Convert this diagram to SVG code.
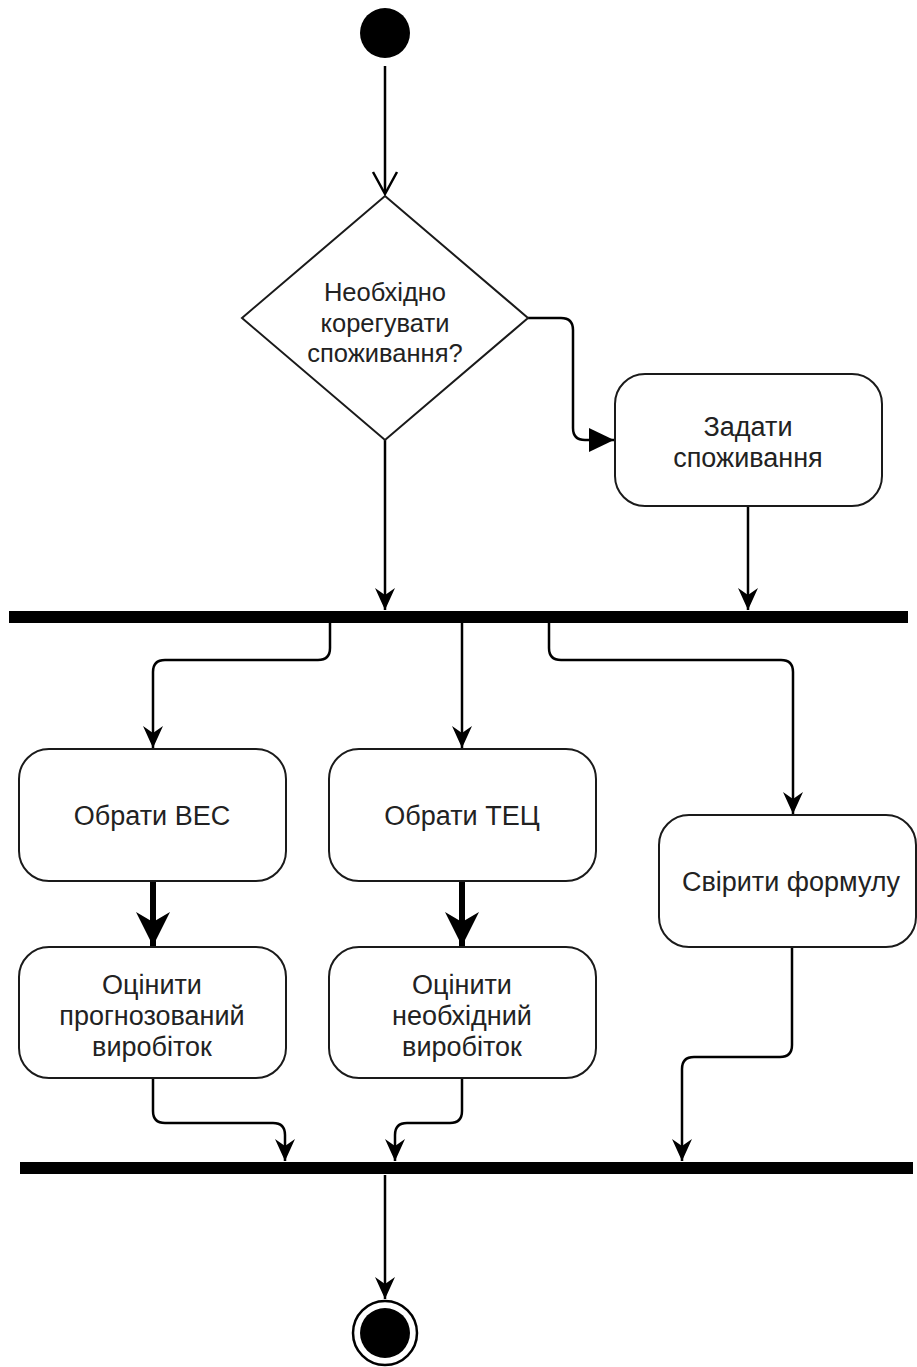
<svg xmlns="http://www.w3.org/2000/svg" width="917" height="1367" viewBox="0 0 917 1367">
  <style>
    .act { fill: #ffffff; stroke: #1a1a1a; stroke-width: 2; }
    .dec { fill: #ffffff; stroke: #1a1a1a; stroke-width: 2; }
    .bar { fill: #000000; }
    .lbl { font-family: "Liberation Sans", Arial, sans-serif; font-size: 27px; fill: #222222; text-anchor: middle; dominant-baseline: central; }
    .qlbl { font-family: "Liberation Sans", Arial, sans-serif; font-size: 25.5px; fill: #222222; text-anchor: middle; dominant-baseline: central; }
    .flow { fill: none; stroke: #000000; stroke-width: 2.5; }
    .thick { fill: none; stroke: #000000; stroke-width: 6; }
  </style>
  <defs>
    <marker id="classic" markerUnits="userSpaceOnUse" viewBox="-24 -12 26 24" refX="0" refY="0" markerWidth="26" markerHeight="24" orient="auto">
      <path d="M0,0 L-22,-10 L-15,0 L-22,10 Z" fill="#000000"/>
    </marker>
    <marker id="classicBig" markerUnits="userSpaceOnUse" viewBox="-36 -19 38 38" refX="0" refY="0" markerWidth="38" markerHeight="38" orient="auto">
      <path d="M0,0 L-34,-17 L-24,0 L-34,17 Z" fill="#000000"/>
    </marker>
    <marker id="block" markerUnits="userSpaceOnUse" viewBox="-27 -14 29 28" refX="0" refY="0" markerWidth="29" markerHeight="28" orient="auto">
      <path d="M0,0 L-25,-12 L-25,12 Z" fill="#000000"/>
    </marker>
  </defs>

  <!-- connectors -->
  <g id="connectors">
    <!-- start to decision (open arrow) -->
    <path class="flow" d="M385,66 V193"/>
    <path class="flow" d="M373,172 L385,194 L397,172"/>
    <!-- decision: yes branch to "Задати споживання" -->
    <path class="flow" d="M528,318 H561 Q573,318 573,330 V428 Q573,440 585,440 H614" marker-end="url(#block)"/>
    <!-- decision bottom to fork -->
    <path class="flow" d="M385,440 V610" marker-end="url(#classic)"/>
    <!-- "Задати споживання" to fork -->
    <path class="flow" d="M748,507 V610" marker-end="url(#classic)"/>
    <!-- fork outputs -->
    <path class="flow" d="M330,623 V648 Q330,660 318,660 H165 Q153,660 153,672 V748" marker-end="url(#classic)"/>
    <path class="flow" d="M462,623 V748" marker-end="url(#classic)"/>
    <path class="flow" d="M549,623 V648 Q549,660 561,660 H781 Q793,660 793,672 V814" marker-end="url(#classic)"/>
    <!-- select to estimate -->
    <path class="thick" d="M153,881 V946" marker-end="url(#classicBig)"/>
    <path class="thick" d="M462,881 V946" marker-end="url(#classicBig)"/>
    <!-- to join -->
    <path class="flow" d="M153,1078 V1111 Q153,1123 165,1123 H273 Q285,1123 285,1135 V1161" marker-end="url(#classic)"/>
    <path class="flow" d="M462,1078 V1111 Q462,1123 450,1123 H407 Q395,1123 395,1135 V1161" marker-end="url(#classic)"/>
    <path class="flow" d="M792,947 V1045 Q792,1057 780,1057 H694 Q682,1057 682,1069 V1161" marker-end="url(#classic)"/>
    <!-- join to final -->
    <path class="flow" d="M385,1175 V1299" marker-end="url(#classic)"/>
  </g>

  <g id="start">
    <circle cx="385" cy="33" r="25" fill="#000000"/>
  </g>

  <g id="decision">
    <polygon class="dec" points="385,196 528,318 385,440 242,318"/>
    <text class="qlbl" x="385" y="292">Необхідно</text>
    <text class="qlbl" x="385" y="323">корегувати</text>
    <text class="qlbl" x="385" y="353">споживання?</text>
  </g>

  <g id="set-consumption">
    <rect class="act" x="615" y="374" width="267" height="132" rx="30" ry="30"/>
    <text class="lbl" x="748" y="427">Задати</text>
    <text class="lbl" x="748" y="458">споживання</text>
  </g>

  <g id="fork">
    <rect class="bar" x="9" y="611" width="899" height="12"/>
  </g>

  <g id="select-wind">
    <rect class="act" x="19" y="749" width="267" height="132" rx="30" ry="30"/>
    <text class="lbl" x="152" y="816">Обрати ВЕС</text>
  </g>

  <g id="select-chp">
    <rect class="act" x="329" y="749" width="267" height="132" rx="30" ry="30"/>
    <text class="lbl" x="462" y="816">Обрати ТЕЦ</text>
  </g>

  <g id="check-formula">
    <rect class="act" x="659" y="815" width="257" height="132" rx="30" ry="30"/>
    <text class="lbl" x="791" y="882">Свірити формулу</text>
  </g>

  <g id="estimate-forecast">
    <rect class="act" x="19" y="947" width="267" height="131" rx="30" ry="30"/>
    <text class="lbl" x="152" y="985">Оцінити</text>
    <text class="lbl" x="152" y="1016">прогнозований</text>
    <text class="lbl" x="152" y="1047">виробіток</text>
  </g>

  <g id="estimate-required">
    <rect class="act" x="329" y="947" width="267" height="131" rx="30" ry="30"/>
    <text class="lbl" x="462" y="985">Оцінити</text>
    <text class="lbl" x="462" y="1016">необхідний</text>
    <text class="lbl" x="462" y="1047">виробіток</text>
  </g>

  <g id="join">
    <rect class="bar" x="20" y="1162" width="893" height="12"/>
  </g>

  <g id="final">
    <circle cx="385" cy="1333" r="32" fill="#ffffff" stroke="#000000" stroke-width="2.5"/>
    <circle cx="385" cy="1333" r="25" fill="#000000"/>
  </g>
</svg>
